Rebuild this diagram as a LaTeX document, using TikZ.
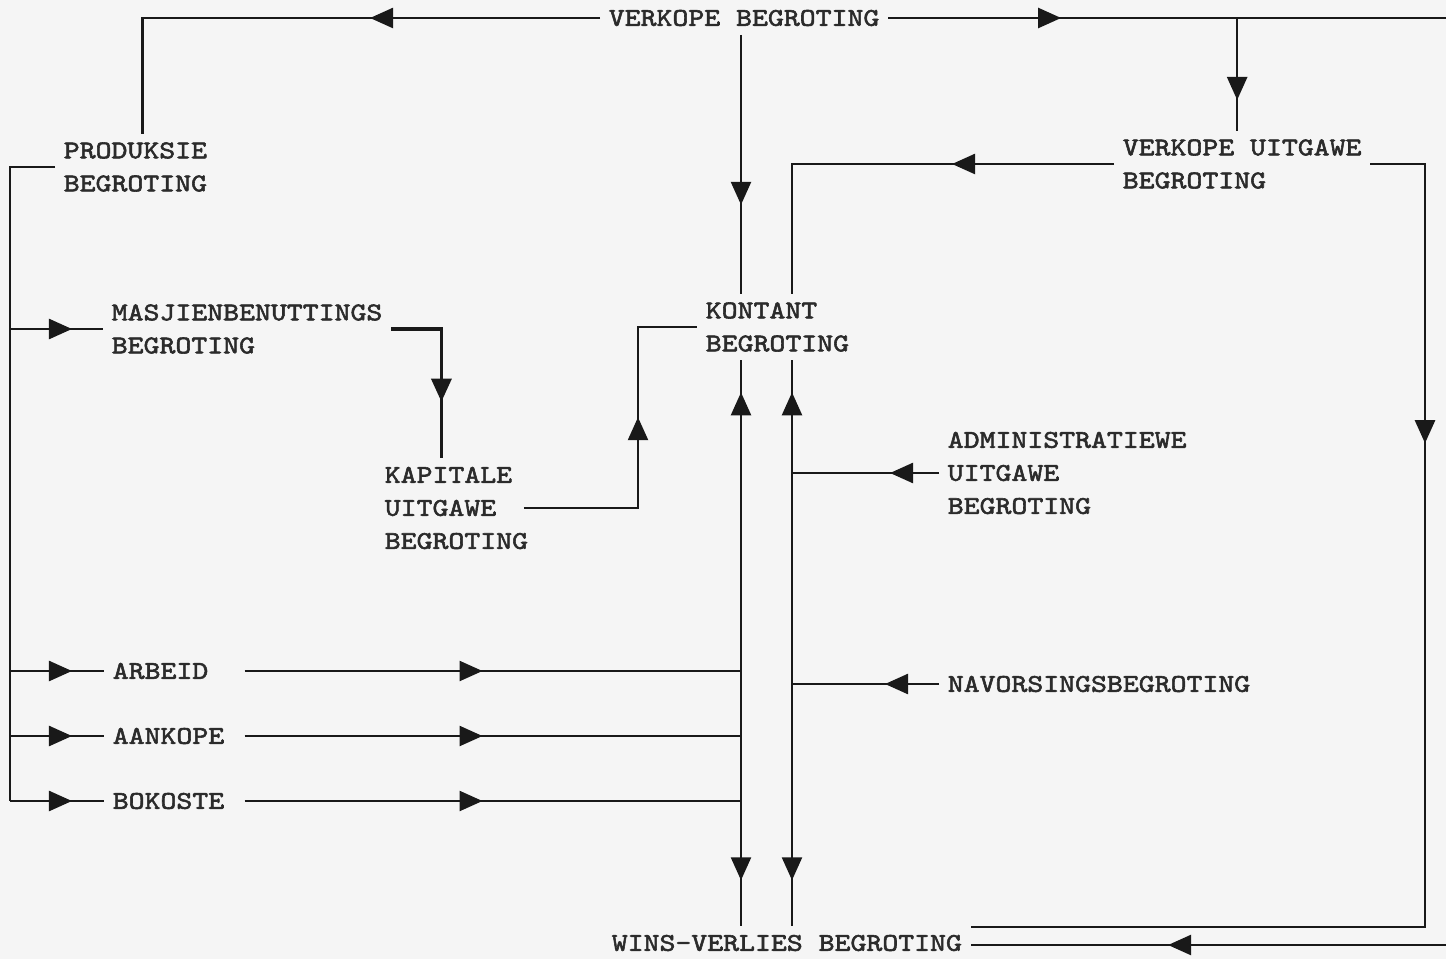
\documentclass[tikz,border=0pt]{standalone}
\usepackage{fontspec}
\newfontfamily\typ{lmmono10-regular.otf}[FakeStretch=1.19,FakeBold=2.2]
\usetikzlibrary{arrows.meta,positioning,calc,decorations.markings}
\definecolor{ink}{gray}{0.17}
\definecolor{ln}{gray}{0.1}
\tikzset{
  box/.style={inner sep=0pt,outer sep=5pt,anchor=west,align=left,text=ink,font=\typ\fontsize{14.5}{18.8}\selectfont},
  flowtip/.tip={Triangle[length=0.46cm,width=0.4cm]},
  fwd/.style={postaction={decorate,decoration={markings,mark=at position #1 with {\arrow{flowtip}}}}},
  bwd/.style={postaction={decorate,decoration={markings,mark=at position #1 with {\arrowreversed{flowtip}}}}}
}
\begin{document}
\begin{tikzpicture}[x=0.02cm,y=-0.02cm,line width=1.4pt,ln]
\path[use as bounding box,fill=white!96!black] (0,0) rectangle (1446,959);
\node[box] (vb) at (600,18) {VERKOPE BEGROTING};
\node[box] (prod) at (55,167) {PRODUKSIE\\BEGROTING};
\node[box] (vu) at (1114,164) {VERKOPE UITGAWE\\BEGROTING};
\node[box] (masj) at (103,329) {MASJIENBENUTTINGS\\BEGROTING};
\node[box] (kont) at (697,327) {KONTANT\\BEGROTING};
\node[box] (kap) at (376,508) {KAPITALE\\UITGAWE\\BEGROTING};
\node[box] (adm) at (939,473) {ADMINISTRATIEWE\\UITGAWE\\BEGROTING};
\node[box,text width=2.24cm] (arb) at (104,671) {ARBEID};
\node[box,text width=2.24cm] (aank) at (104,736) {AANKOPE};
\node[box,text width=2.24cm] (bok) at (104,801) {BOKOSTE};
\node[box] (nav) at (939,684) {NAVORSINGSBEGROTING};
\node[box] (wins) at (603,943) {WINS-VERLIES BEGROTING};
% junctions and open ends
\coordinate (c1) at (741,0);
\coordinate (c2) at (792,0);
\coordinate (lt) at (10,0);
\coordinate (rt) at (1425,927);
\coordinate (vbout) at (1446,18);
\coordinate (wout) at (1446,945);
\coordinate (vuin) at ($(vu.north)+(-5,0)$);
% sales budget
\draw[fwd=4.6cm] (vb.west) -| ([xshift=0.14cm]prod.north);
\draw[fwd=3.46cm] (vb.east) -- (vbout);
\draw[fwd=1.64cm] (vuin |- vb.east) -- (vuin);
\draw[fwd=3.4cm] (c1 |- vb.south) -- (c1 |- kont.north);
\draw[fwd=3.24cm] (vu.west) -| (c2 |- kont.north);
\draw[fwd=6.68cm] (vu.east) -| (rt) -- (rt -| wins.east);
\draw[fwd=5.56cm] (wout) -- (wout -| wins.east);
% production budget
\draw (prod.west) -| (lt |- bok.west);
\foreach \n in {masj,arb,aank,bok}
  \draw[fwd=1.24cm] (lt |- \n.west) -- (\n.west);
\draw[fwd=2.46cm,line width=1.9pt] (masj.east) -| ($(kap.north)+(-15,0)$);
\draw[fwd=4.1cm] ([xshift=-0.26cm]kap.east) -| ($(kont.west)+(-59,0)$) -- (kont.west);
% cash budget
\foreach \col in {c1,c2}
  \draw[bwd=0.64cm,fwd=10.4cm] (\col |- kont.south) -- (\col |- wins.north);
\foreach \n in {arb,aank,bok}
  \draw[fwd=4.76cm] ([xshift=0.22cm]\n.east) -- (c1 |- \n.east);
\foreach \n/\p in {adm/0.98cm,nav/1.08cm}
  \draw[fwd=\p] (\n.west) -- (c2 |- \n.west);
\end{tikzpicture}
\end{document}
